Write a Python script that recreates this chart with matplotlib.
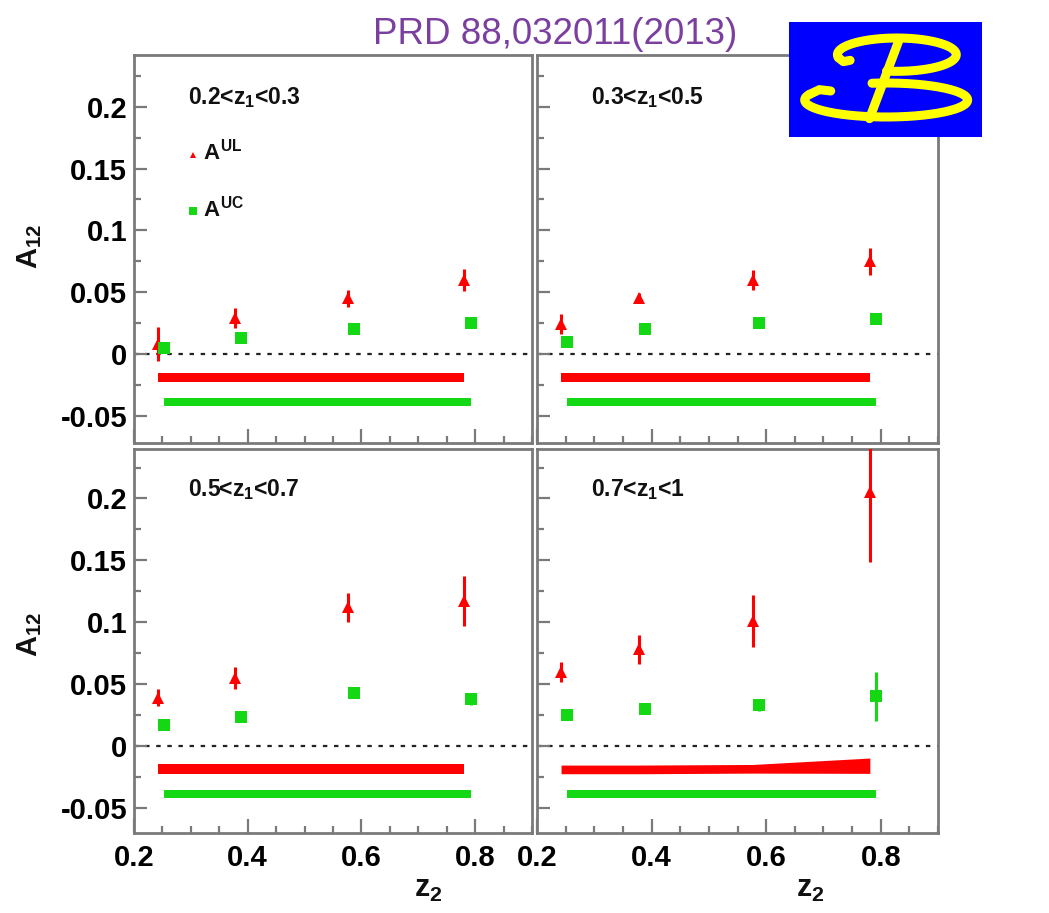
import numpy as np
import matplotlib
matplotlib.use("Agg")
import matplotlib.pyplot as plt
from matplotlib.ticker import FixedLocator, FixedFormatter, MultipleLocator

plt.rcParams['font.family'] = 'Liberation Sans'
plt.rcParams['mathtext.fontset'] = 'custom'
plt.rcParams['mathtext.rm'] = 'Liberation Sans:bold'
plt.rcParams['mathtext.it'] = 'Liberation Sans:bold'
plt.rcParams['mathtext.bf'] = 'Liberation Sans:bold'

# ---- data ----
panel_labels = ['0.2<$z_1$<0.3', '0.3<$z_1$<0.5', '0.5<$z_1$<0.7', '0.7<$z_1$<1']
z2_ul = [0.242, 0.378, 0.577, 0.781]
z2_uc = [0.253, 0.388, 0.587, 0.792]

a_ul = [[0.008, 0.029, 0.045, 0.060],
        [0.024, 0.045, 0.060, 0.075],
        [0.039, 0.055, 0.112, 0.117],
        [0.060, 0.078, 0.101, 0.205]]
a_ul_err = [[0.014, 0.008, 0.007, 0.009],
            [0.008, 0.004, 0.008, 0.011],
            [0.007, 0.009, 0.012, 0.020],
            [0.008, 0.012, 0.021, 0.056]]
a_uc = [[0.005, 0.013, 0.020, 0.025],
        [0.010, 0.020, 0.025, 0.028],
        [0.017, 0.023, 0.043, 0.038],
        [0.025, 0.030, 0.033, 0.040]]
a_uc_err = [[0.002, 0.002, 0.002, 0.002],
            [0.002, 0.002, 0.002, 0.002],
            [0.002, 0.002, 0.002, 0.005],
            [0.002, 0.002, 0.005, 0.020]]

# systematic bands drawn below zero (centre, half width)
sys_ul_c = [[-0.019] * 4, [-0.019] * 4, [-0.019] * 4, [-0.019, -0.019, -0.0185, -0.016]]
sys_ul_w = [[0.0035] * 4, [0.0035] * 4, [0.004] * 4, [0.0035, 0.0035, 0.0035, 0.0062]]
sys_uc_c = [[-0.039] * 4] * 4
sys_uc_w = [[0.003] * 4] * 4

yticks = [-0.05, 0, 0.05, 0.1, 0.15, 0.2]
ytick_labels = ['-0.05', '0', '0.05', '0.1', '0.15', '0.2']
xticks = [0.2, 0.4, 0.6, 0.8]
xtick_labels = ['0.2', '0.4', '0.6', '0.8']

RED = '#ff0000'
GREEN = '#14d814'
FRAME = '#7a7a7a'

W, H = 1049, 913
fig = plt.figure(figsize=(W / 100, H / 100), dpi=100)


def px_rect(x0, y0, x1, y1):
    return [x0 / W, (H - y1) / H, (x1 - x0) / W, (y1 - y0) / H]


rects = [px_rect(134, 55, 532, 443), px_rect(537, 55, 938, 443),
         px_rect(134, 449, 532, 833), px_rect(537, 449, 938, 833)]
ylims = [(-0.072, 0.2418), (-0.072, 0.2418), (-0.0704, 0.240), (-0.0704, 0.240)]

for i in range(4):
    ax = fig.add_axes(rects[i])
    ax.set_xlim(0.2, 0.9)
    ax.set_ylim(*ylims[i])

    ax.axhline(0, color='#222222', lw=1.6, ls=(0, (2, 3)), zorder=1)

    xu = np.array(z2_ul)
    xc = np.array(z2_uc)
    cu = np.array(sys_ul_c[i]); wu = np.array(sys_ul_w[i])
    cc = np.array(sys_uc_c[i]); wc = np.array(sys_uc_w[i])
    ax.fill_between(xu, cu - wu, cu + wu, color=RED, lw=0, zorder=2)
    ax.fill_between(xc, cc - wc, cc + wc, color=GREEN, lw=0, zorder=2)

    ax.errorbar(z2_ul, a_ul[i], yerr=a_ul_err[i], fmt='^', color=RED, ms=8,
                mew=0, elinewidth=2.2, capsize=0, zorder=4)
    ax.errorbar(z2_uc, a_uc[i], yerr=a_uc_err[i], fmt='s', color=GREEN, ms=9,
                mew=0, elinewidth=2.2, capsize=0, zorder=4)

    ax.text(0.295, 0.202, panel_labels[i], fontsize=16.5, fontweight='bold',
            ha='left', va='baseline', color='#111111')

    if i == 0:
        ax.plot([0.303], [0.161], '^', color=RED, ms=5, mew=0)
        ax.plot([0.303], [0.116], 's', color=GREEN, ms=5.5, mew=0)
        ax.text(0.322, 0.157, '$A^{UL}$', fontsize=16, ha='left', va='baseline', color='#111111')
        ax.text(0.322, 0.111, '$A^{UC}$', fontsize=16, ha='left', va='baseline', color='#111111')

    for s in ['top', 'right', 'left', 'bottom']:
        ax.spines[s].set_color(FRAME)
        ax.spines[s].set_linewidth(2)

    ax.xaxis.set_major_locator(FixedLocator(xticks))
    ax.xaxis.set_minor_locator(MultipleLocator(0.05))
    ax.yaxis.set_major_locator(FixedLocator(yticks))
    ax.yaxis.set_minor_locator(MultipleLocator(0.025))
    ax.tick_params(which='both', direction='in', color=FRAME, width=1.6,
                   top=False, right=False)
    ax.tick_params(axis='x', which='major', length=10, pad=8)
    ax.tick_params(axis='x', which='minor', length=5)
    ax.tick_params(axis='y', which='major', length=9, pad=5)
    ax.tick_params(axis='y', which='minor', length=5)

    if i >= 2:
        ax.xaxis.set_major_formatter(FixedFormatter(xtick_labels))
        for lab in ax.get_xticklabels():
            lab.set_fontsize(21)
            lab.set_fontweight('bold')
    else:
        ax.set_xticklabels([])
    if i % 2 == 0:
        ax.yaxis.set_major_formatter(FixedFormatter(ytick_labels))
        for lab in ax.get_yticklabels():
            lab.set_fontsize(21)
            lab.set_fontweight('bold')
    else:
        ax.set_yticklabels([])

# axis titles
for yc in [247, 635]:
    fig.text(30 / W, 1 - yc / H, '$A_{12}$', rotation=90, fontsize=21,
             ha='center', va='center', color='#111111')
for xc in [428, 810]:
    fig.text(xc / W, 1 - 889 / H, '$z_2$', fontsize=22,
             ha='center', va='center', color='#111111')

# reference header
fig.text(555 / W, 1 - 44 / H, 'PRD 88,032011(2013)', fontsize=26.5,
         color='#7b3fa0', ha='center', va='baseline')

# Belle logo
lax = fig.add_axes(px_rect(789, 22, 982, 137))
lax.set_facecolor('#0000ff')
lax.set_xlim(27, 605)
lax.set_ylim(380, 35)
lax.set_xticks([])
lax.set_yticks([])
for s in lax.spines.values():
    s.set_visible(False)
YEL = '#ffff00'
t = np.radians(np.linspace(-100, 190, 200))
lax.plot(350 + 178 * np.cos(t), 133 - 50 * np.sin(t), color=YEL, lw=6.5,
         solid_capstyle='round')
lax.plot([175, 190, 210], [142, 154, 150], color=YEL, lw=6.5, solid_capstyle='round')
t = np.radians(np.linspace(-200, 100, 200))
lax.plot(318 + 244 * np.cos(t), 269 - 51 * np.sin(t), color=YEL, lw=6.5,
         solid_capstyle='round')
lax.plot([89, 118, 152], [252, 238, 242], color=YEL, lw=6.5, solid_capstyle='round')
lax.plot([357, 268], [88, 325], color=YEL, lw=6.5, solid_capstyle='round')

fig.savefig('out.png', dpi=100)
